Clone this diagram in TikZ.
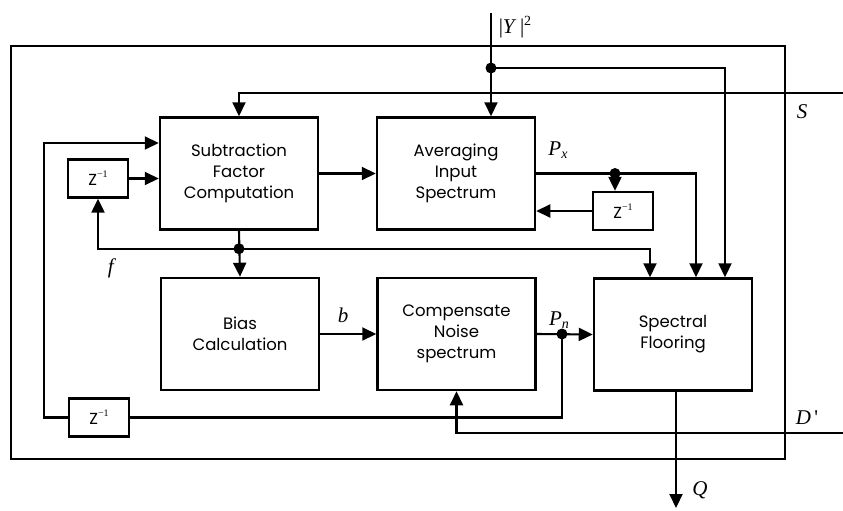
\documentclass[tikz,border=0pt]{standalone}
\usepackage{fontspec}
\newfontfamily\boxfont{Poppins}
\newfontfamily\lblfont{Liberation Serif}
\usetikzlibrary{arrows.meta,calc}

\tikzset{
  blk/.style={draw, line width=2.5pt, minimum width=158pt, minimum height=112pt,
    inner sep=0pt, align=center, font=\boxfont\fontsize{16.5}{21}\selectfont},
  zbox/.style={draw, line width=2.3pt, minimum width=60pt, minimum height=38pt,
    inner sep=0pt, font=\boxfont\fontsize{16}{18}\selectfont},
  wire/.style={line width=2.1pt},
  arr/.style={wire, -{Triangle[length=14pt,width=13pt]}},
  junc/.style={circle, fill, inner sep=0pt, minimum size=11pt},
  sym/.style={inner sep=0pt, font=\lblfont\fontsize{21}{23}\selectfont},
}

% delay operator and label helpers
\newcommand{\zinv}{Z\raisebox{0.9ex}{\fontsize{10}{11}\selectfont\lblfont\textminus1}}
\newcommand{\sublbl}[2]{\textit{#1}\raisebox{-0.35ex}{\fontsize{14}{15}\selectfont\itshape #2}}

\begin{document}
\begin{tikzpicture}[x=1pt, y=-1pt]
  \useasboundingbox (0,0) rectangle (843,511);

  % outer frame of the processing block
  \draw[line width=1.8pt] (11,46) rectangle (785,459);

  % processing blocks
  \node[blk] (sub)  at (239,173.5) {Subtraction\\Factor\\Computation};
  \node[blk] (avg)  at (456,173.5) {Averaging\\Input\\Spectrum};
  \node[blk] (bias) at (240,334)   {Bias\\Calculation};
  \node[blk] (comp) at (456.5,334) {Compensate\\Noise\\spectrum};
  \node[blk] (flo)  at (673,334.5) {Spectral\\Flooring};

  % unit delays
  \node[zbox] (z1) at (98,178.5)  {\zinv};
  \node[zbox] (z2) at (623,211)   {\zinv};
  \node[zbox] (z3) at (99,417.5)  {\zinv};

  % external terminals and bend points
  \coordinate (yin) at (491,13);
  \coordinate (sin) at (843,93);
  \coordinate (din) at (843,433);
  \coordinate (qout) at (676,508);
  \coordinate (lc)  at (44,417.5);
  \coordinate (fbin) at ([yshift=30.5pt]sub.west);

  % junctions
  \coordinate (dY)  at (491,68);
  \coordinate (dPx) at (615,173.5);
  \coordinate (df)  at ($(sub.south)+(0,18)$);
  \coordinate (dPn) at (562,334);

  % |Y|^2 input
  \draw[arr] (yin) -- (yin |- avg.north);
  \draw[arr] (dY) -| ([xshift=52pt]flo.north);

  % S input
  \draw[arr] (sin) -| (sub.north);

  % subtraction factor to averaging
  \draw[arr] (sub.east) -- (avg.west);
  \draw[arr] (z1.east) -- (z1.east -| sub.west);

  % P_x path and its delay loop
  \draw[arr] (avg.east) -| ([xshift=23pt]flo.north);
  \draw[arr] (dPx) -- (dPx |- z2.north);
  \draw[arr] (z2.west) -- (z2.west -| avg.east);

  % f distribution
  \draw[arr] (sub.south) -- (bias.north);
  \draw[arr] (df) -| (z1.south);
  \draw[arr] (df) -| ([xshift=-23pt]flo.north);

  % bias into compensation
  \draw[arr] (bias.east) -- (comp.west);

  % P_n output and delayed feedback
  \draw[arr] (comp.east) -- (flo.west);
  \draw[wire] (z3.east) -| (dPn);
  \draw[arr] (z3.west) -- (lc) |- (fbin);

  % D' input
  \draw[arr] (din) -| (comp.south);

  % Q output
  \draw[arr] ([xshift=3pt]flo.south) -- (qout);

  % junction dots
  \node[junc] at (dY) {};
  \node[junc] at (dPx) {};
  \node[junc] at (df) {};
  \node[junc] at (dPn) {};

  % signal labels
  \node[sym] at (515,27)  {|\textit{Y}\,|\raisebox{0.8ex}{\fontsize{14}{15}\selectfont 2}};
  \node[sym] at (802,112) {\textit{S}};
  \node[sym] at (558,150) {\sublbl{P}{x}};
  \node[sym] at (112,268) {\textit{f}};
  \node[sym] at (343,315) {\textit{b}};
  \node[sym] at (559,320) {\sublbl{P}{n}};
  \node[sym] at (807,418) {\textit{D}\,\textquotesingle};
  \node[sym] at (700,490) {\textit{Q}};
\end{tikzpicture}
\end{document}
